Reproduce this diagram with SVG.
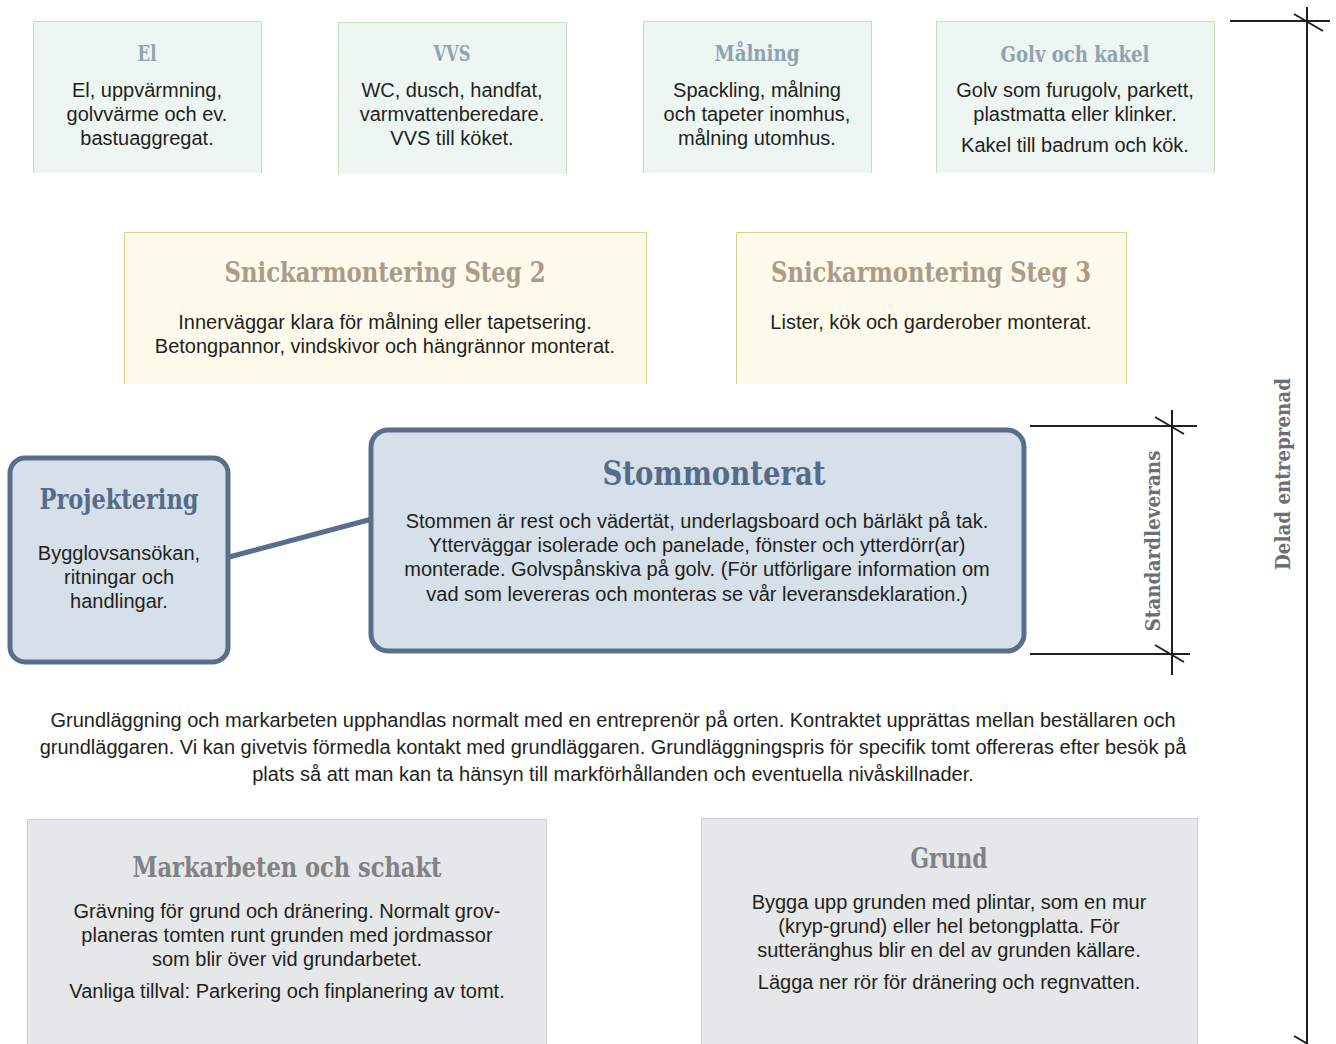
<svg xmlns="http://www.w3.org/2000/svg" width="1336" height="1044" viewBox="0 0 1336 1044">
<style>
.body{font-family:"Liberation Sans Narrow","Liberation Sans",Arial,sans-serif;font-size:20px;fill:#231f20;text-anchor:middle}
.ttl{font-family:"DejaVu Serif Condensed","DejaVu Serif",serif;font-weight:bold;text-anchor:middle}
.green{fill:#edf6f2;stroke:#c9dcc0;stroke-width:1}
.yellow{fill:#fefbec;stroke:#e3cd8f;stroke-width:1}
.gray{fill:#e6e7e8;stroke:#cfd0d2;stroke-width:1}
.blue{fill:#d6e0ea;stroke:#5a6e8b;stroke-width:5}
.dim{stroke:#231f20;stroke-width:2;fill:none}
</style>
<rect width="1336" height="1044" fill="#ffffff"/>
<g id="node-el">
<path class="green" d="M33.5,173 V21.5 H261.5 V173"/>
<text class="ttl" x="147" y="61" font-size="22" fill="#8ea3b0" textLength="19" lengthAdjust="spacingAndGlyphs">El</text>
<text class="body" x="147" y="97">El, uppvärmning,</text>
<text class="body" x="147" y="121">golvvärme och ev.</text>
<text class="body" x="147" y="145">bastuaggregat.</text>
</g>
<g id="node-vvs">
<path class="green" d="M338.5,174 V22.5 H566.5 V174"/>
<text class="ttl" x="452" y="61" font-size="22" fill="#8ea3b0" textLength="37" lengthAdjust="spacingAndGlyphs">VVS</text>
<text class="body" x="452" y="97">WC, dusch, handfat,</text>
<text class="body" x="452" y="121">varmvattenberedare.</text>
<text class="body" x="452" y="145">VVS till köket.</text>
</g>
<g id="node-malning">
<path class="green" d="M643.5,173 V21.5 H871.5 V173"/>
<text class="ttl" x="757" y="61" font-size="22" fill="#8ea3b0" textLength="85" lengthAdjust="spacingAndGlyphs">Målning</text>
<text class="body" x="757" y="97">Spackling, målning</text>
<text class="body" x="757" y="121">och tapeter inomhus,</text>
<text class="body" x="757" y="145">målning utomhus.</text>
</g>
<g id="node-golv">
<path class="green" d="M936.5,173 V21.5 H1214.5 V173"/>
<text class="ttl" x="1075" y="62" font-size="22" fill="#8ea3b0" textLength="149" lengthAdjust="spacingAndGlyphs">Golv och kakel</text>
<text class="body" x="1075" y="97">Golv som furugolv, parkett,</text>
<text class="body" x="1075" y="121">plastmatta eller klinker.</text>
<text class="body" x="1075" y="152">Kakel till badrum och kök.</text>
</g>
<g id="node-steg2">
<path class="yellow" d="M124.5,384 V232.5 H646.5 V384"/>
<text class="ttl" x="385" y="282" font-size="27" fill="#a99c88" textLength="321" lengthAdjust="spacingAndGlyphs">Snickarmontering Steg 2</text>
<text class="body" x="385" y="329">Innerväggar klara för målning eller tapetsering.</text>
<text class="body" x="385" y="353">Betongpannor, vindskivor och hängrännor monterat.</text>
</g>
<g id="node-steg3">
<path class="yellow" d="M736.5,384 V232.5 H1126.5 V384"/>
<text class="ttl" x="931" y="282" font-size="27" fill="#a99c88" textLength="320" lengthAdjust="spacingAndGlyphs">Snickarmontering Steg 3</text>
<text class="body" x="931" y="329">Lister, kök och garderober monterat.</text>
</g>
<g id="connectors">
<line x1="229" y1="557" x2="372" y2="519" stroke="#5a6e8b" stroke-width="5"/>
</g>
<g id="node-projektering">
<rect class="blue" x="10" y="458" width="218" height="204" rx="15"/>
<text class="ttl" x="119" y="509" font-size="27" fill="#556b88" textLength="159" lengthAdjust="spacingAndGlyphs">Projektering</text>
<text class="body" x="119" y="560">Bygglovsansökan,</text>
<text class="body" x="119" y="584">ritningar och</text>
<text class="body" x="119" y="608">handlingar.</text>
</g>
<g id="node-stommonterat">
<rect class="blue" x="371" y="430" width="653" height="221" rx="17"/>
<text class="ttl" x="714" y="485" font-size="33" fill="#556b88" textLength="223" lengthAdjust="spacingAndGlyphs">Stommonterat</text>
<text class="body" x="697" y="528">Stommen är rest och vädertät, underlagsboard och bärläkt på tak.</text>
<text class="body" x="697" y="552">Ytterväggar isolerade och panelade, fönster och ytterdörr(ar)</text>
<text class="body" x="697" y="576">monterade. Golvspånskiva på golv. (För utförligare information om</text>
<text class="body" x="697" y="601">vad som levereras och monteras se vår leveransdeklaration.)</text>
</g>
<g id="note">
<text class="body" x="613" y="727">Grundläggning och markarbeten upphandlas normalt med en entreprenör på orten. Kontraktet upprättas mellan beställaren och</text>
<text class="body" x="613" y="754">grundläggaren. Vi kan givetvis förmedla kontakt med grundläggaren. Grundläggningspris för specifik tomt offereras efter besök på</text>
<text class="body" x="613" y="781">plats så att man kan ta hänsyn till markförhållanden och eventuella nivåskillnader.</text>
</g>
<g id="node-markarbeten">
<path class="gray" d="M27.5,1044 V819.5 H546.5 V1044"/>
<text class="ttl" x="287" y="877" font-size="28" fill="#808285" textLength="309" lengthAdjust="spacingAndGlyphs">Markarbeten och schakt</text>
<text class="body" x="287" y="918">Grävning för grund och dränering. Normalt grov-</text>
<text class="body" x="287" y="942">planeras tomten runt grunden med  jordmassor</text>
<text class="body" x="287" y="966">som blir över vid grundarbetet.</text>
<text class="body" x="287" y="998">Vanliga tillval: Parkering och finplanering av tomt.</text>
</g>
<g id="node-grund">
<path class="gray" d="M701.5,1044 V818.5 H1197.5 V1044"/>
<text class="ttl" x="949" y="868" font-size="28" fill="#808285" textLength="77" lengthAdjust="spacingAndGlyphs">Grund</text>
<text class="body" x="949" y="909">Bygga upp grunden med plintar, som en mur</text>
<text class="body" x="949" y="933">(kryp-grund) eller hel betongplatta. För</text>
<text class="body" x="949" y="957">sutteränghus blir en del av grunden källare.</text>
<text class="body" x="949" y="989">Lägga ner rör för dränering och regnvatten.</text>
</g>
<g id="dim-delad">
<line class="dim" x1="1230" y1="21" x2="1330" y2="21"/>
<line class="dim" x1="1307" y1="7" x2="1307" y2="1044"/>
<line class="dim" x1="1294" y1="14" x2="1323" y2="31"/>
<line class="dim" x1="1294" y1="1036" x2="1308" y2="1044"/>
<text class="ttl" transform="translate(1290,474) rotate(-90)" font-size="21" fill="#6d6e71" textLength="192" lengthAdjust="spacingAndGlyphs">Delad entreprenad</text>
</g>
<g id="dim-standard">
<line class="dim" x1="1030" y1="426" x2="1197" y2="426"/>
<line class="dim" x1="1030" y1="654" x2="1190" y2="654"/>
<line class="dim" x1="1172" y1="410" x2="1172" y2="675"/>
<line class="dim" x1="1155" y1="417" x2="1184" y2="434"/>
<line class="dim" x1="1155" y1="645" x2="1184" y2="662"/>
<text class="ttl" transform="translate(1160,541) rotate(-90)" font-size="21" fill="#6d6e71" textLength="181" lengthAdjust="spacingAndGlyphs">Standardleverans</text>
</g>
</svg>
